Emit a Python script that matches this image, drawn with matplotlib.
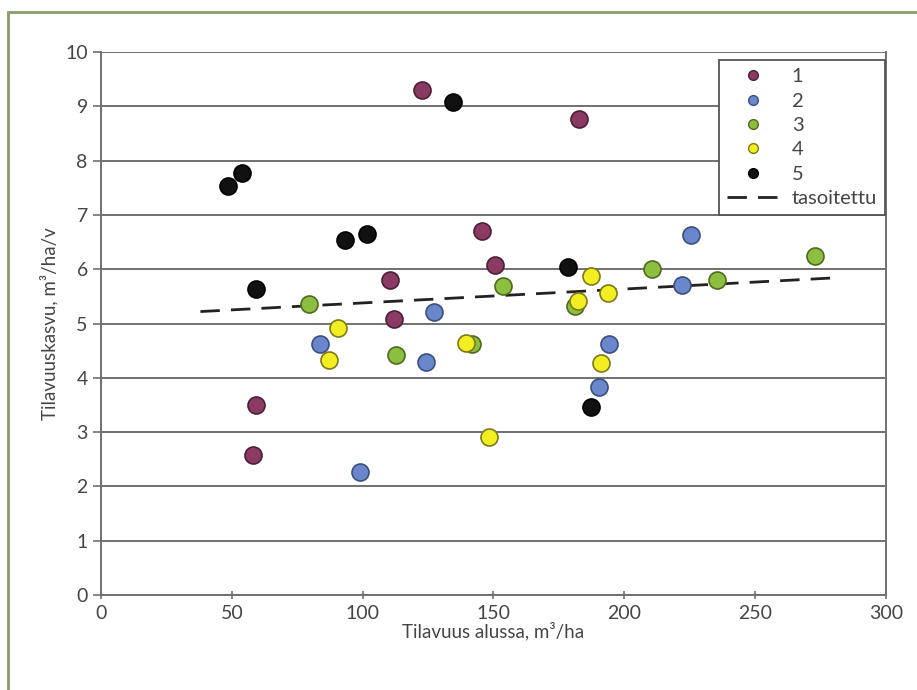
import matplotlib.pyplot as plt
from matplotlib.patches import Rectangle
from matplotlib.lines import Line2D

# data
x1 = [122.6, 182.6, 145.5, 150.5, 110.4, 111.9, 59.2, 58.1]
y1 = [9.30, 8.77, 6.70, 6.08, 5.80, 5.08, 3.50, 2.58]

x2 = [225.4, 221.9, 127.2, 83.7, 124.1, 194.0, 190.2, 98.9]
y2 = [6.63, 5.71, 5.21, 4.62, 4.29, 4.62, 3.83, 2.27]

x3 = [272.7, 210.5, 235.3, 153.6, 79.4, 181.1, 112.7, 141.7]
y3 = [6.24, 6.00, 5.80, 5.69, 5.36, 5.32, 4.42, 4.62]

x4 = [187.2, 193.7, 182.2, 90.5, 139.4, 87.1, 191.0, 148.2]
y4 = [5.87, 5.56, 5.41, 4.92, 4.64, 4.33, 4.27, 2.91]

x5 = [48.5, 53.9, 134.5, 93.2, 101.6, 59.2, 178.4, 187.2]
y5 = [7.53, 7.77, 9.08, 6.54, 6.65, 5.64, 6.04, 3.46]

trend_x = [38, 280]
trend_y = [5.22, 5.84]

groups = ['1', '2', '3', '4', '5']
faces = ['#8a3a63', '#6b87cb', '#8cbf3f', '#f2ee22', '#111111']
edges = ['#4a2035', '#3a4f80', '#4f6a1e', '#7d7a1c', '#000000']

plt.rcParams['font.family'] = ['Lato', 'DejaVu Sans']
txt = '#454545'

fig = plt.figure(figsize=(9.17, 6.9), dpi=100)
ax = fig.add_axes([0.1101, 0.1377, 0.8561, 0.7869])

# outer frame (right and bottom edges run off the picture)
fig.patches.append(Rectangle((8 / 917, -0.1), 1.2, 1 - 12 / 690 + 0.1,
                             transform=fig.transFigure, fill=False,
                             edgecolor='#8a9c6c', lw=2))

ax.plot(trend_x, trend_y, color='#222222', lw=2, dashes=(7, 4), zorder=2)

data = [(x1, y1), (x2, y2), (x3, y3), (x4, y4), (x5, y5)]
for (xs, ys), fc, ec in zip(data, faces, edges):
    ax.scatter(xs, ys, s=150, facecolor=fc, edgecolor=ec, linewidth=1.2, zorder=3)

ax.set_xlim(0, 300)
ax.set_ylim(0, 10)
ax.set_xticks(range(0, 301, 50))
ax.set_yticks(range(0, 11))
ax.yaxis.grid(True, color='#707070', lw=1.4)
ax.set_axisbelow(True)
ax.spines['top'].set_visible(False)
for s in ['left', 'bottom', 'right']:
    ax.spines[s].set_color('#707070')
    ax.spines[s].set_linewidth(1.4)
ax.tick_params(axis='both', colors='#707070', labelcolor=txt, labelsize=14,
               length=6, width=1.2)
ax.tick_params(axis='x', direction='inout', pad=4)

ax.set_xlabel('Tilavuus alussa, m³/ha', fontsize=13.5, color=txt, labelpad=0)
ax.set_ylabel('Tilavuuskasvu, m³/ha/v', fontsize=13.5, color=txt, labelpad=5)

handles = [Line2D([], [], ls='none', marker='o', markersize=7,
                  markerfacecolor=fc, markeredgecolor=ec)
           for fc, ec in zip(faces, edges)]
handles.append(Line2D([], [], color='#222222', lw=2, dashes=(7, 4)))
labels = groups + ['tasoitettu']
leg = ax.legend(handles, labels, loc='upper right', bbox_to_anchor=(0.9987, 0.985),
                borderaxespad=0, fontsize=14.5, frameon=True, fancybox=False,
                handlelength=2.6, labelspacing=0.36, borderpad=0.4,
                handletextpad=0.6, framealpha=1)
leg.get_frame().set_edgecolor('#555555')
leg.get_frame().set_linewidth(1.3)
for t in leg.get_texts():
    t.set_color(txt)

fig.savefig('out.png', dpi=100)
